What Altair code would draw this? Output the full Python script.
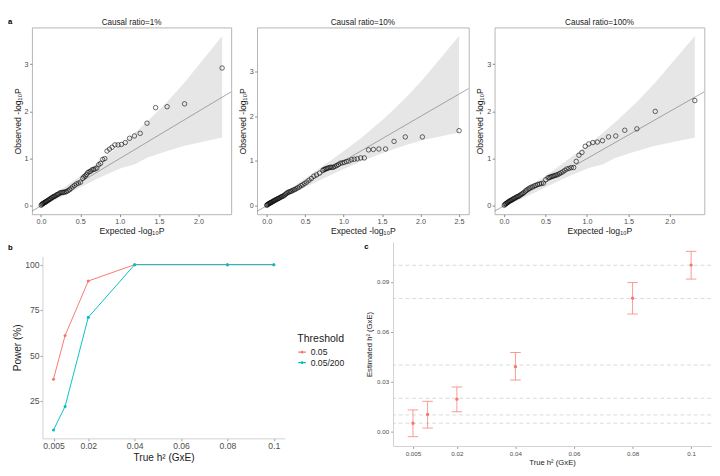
import altair as alt
import pandas as pd

FONT = "Liberation Sans"
RED = "#F8766D"
CYAN = "#00BFC4"
LBL = "#4d4d4d"
TXT = "#1a1a1a"

# ---------------- panel a : QQ plots ----------------
expected_n100 = [2.301, 1.824, 1.602, 1.456, 1.347, 1.260, 1.187, 1.125, 1.071, 1.022,
                 0.979, 0.939, 0.903, 0.870, 0.839, 0.810, 0.783, 0.757, 0.733, 0.710,
                 0.688, 0.668, 0.648, 0.629, 0.611, 0.593, 0.577, 0.561, 0.545, 0.530,
                 0.502, 0.475, 0.450, 0.426, 0.403, 0.382, 0.362, 0.342, 0.323, 0.305,
                 0.288, 0.272, 0.256, 0.240, 0.225, 0.211, 0.197, 0.184, 0.171, 0.158,
                 0.146, 0.134, 0.122, 0.111, 0.100, 0.089, 0.078, 0.068, 0.058, 0.048,
                 0.039, 0.029, 0.020, 0.011, 0.002]
observed_1pct = [2.92, 2.16, 2.10, 2.08, 1.75, 1.535, 1.48, 1.43, 1.34, 1.30,
                 1.29, 1.29, 1.24, 1.20, 1.16, 1.00, 0.98, 0.90, 0.87, 0.80,
                 0.78, 0.77, 0.76, 0.73, 0.72, 0.70, 0.66, 0.63, 0.61, 0.58,
                 0.50, 0.48, 0.46, 0.43, 0.40, 0.37, 0.34, 0.32, 0.30, 0.29,
                 0.285, 0.28, 0.28, 0.27, 0.25, 0.24, 0.23, 0.21, 0.20, 0.19,
                 0.18, 0.165, 0.15, 0.14, 0.125, 0.115, 0.10, 0.09, 0.08, 0.07,
                 0.06, 0.05, 0.04, 0.03, 0.01]
observed_100pct = [2.23, 2.00, 1.63, 1.60, 1.48, 1.46, 1.38, 1.35, 1.34, 1.31,
                   1.26, 1.13, 1.07, 0.94, 0.81, 0.81, 0.79, 0.78, 0.75, 0.72,
                   0.70, 0.68, 0.66, 0.65, 0.64, 0.63, 0.62, 0.61, 0.60, 0.59,
                   0.55, 0.48, 0.47, 0.46, 0.45, 0.43, 0.42, 0.40, 0.39, 0.37,
                   0.35, 0.33, 0.31, 0.28, 0.26, 0.245, 0.23, 0.21, 0.20, 0.19,
                   0.18, 0.165, 0.155, 0.145, 0.13, 0.12, 0.11, 0.10, 0.09, 0.075,
                   0.065, 0.05, 0.04, 0.03, 0.01]
expected_n158 = [2.500, 2.023, 1.801, 1.655, 1.545, 1.458, 1.386, 1.324, 1.269, 1.221,
                 1.177, 1.138, 1.102, 1.068, 1.037, 1.008, 0.981, 0.956, 0.931, 0.909,
                 0.887, 0.866, 0.846, 0.828, 0.809, 0.792, 0.775, 0.759, 0.744, 0.729,
                 0.687, 0.648, 0.613, 0.581, 0.550, 0.522, 0.495, 0.470, 0.447, 0.424,
                 0.403, 0.382, 0.363, 0.344, 0.326, 0.309, 0.293, 0.277, 0.262, 0.247,
                 0.233, 0.219, 0.205, 0.192, 0.180, 0.167, 0.155, 0.144, 0.132, 0.121,
                 0.111, 0.100, 0.090, 0.080, 0.070, 0.060, 0.051, 0.042, 0.033, 0.024,
                 0.015, 0.007, 0.001]
observed_10pct = [1.68, 1.54, 1.54, 1.44, 1.27, 1.27, 1.26, 1.25, 1.07, 1.07,
                  1.05, 1.04, 1.03, 1.00, 0.99, 0.97, 0.96, 0.95, 0.92, 0.90,
                  0.88, 0.86, 0.86, 0.86, 0.85, 0.84, 0.83, 0.82, 0.81, 0.79,
                  0.73, 0.69, 0.66, 0.61, 0.57, 0.53, 0.50, 0.47, 0.45, 0.42,
                  0.40, 0.38, 0.36, 0.35, 0.33, 0.32, 0.31, 0.30, 0.28, 0.26,
                  0.24, 0.22, 0.21, 0.20, 0.19, 0.175, 0.165, 0.155, 0.145, 0.135,
                  0.125, 0.115, 0.105, 0.095, 0.085, 0.075, 0.065, 0.06, 0.05, 0.04,
                  0.03, 0.02, 0.01]

band_x_n100 = [0.002, 0.048, 0.158, 0.264, 0.403, 0.530, 0.710, 0.839, 1.022, 1.187, 1.347, 1.602, 1.824, 2.301]
band_hi_n100 = [0.016, 0.081, 0.219, 0.349, 0.521, 0.67, 0.90, 1.071, 1.301, 1.537, 1.779, 2.202, 2.612, 3.597]
band_lo_n100 = [0.0001, 0.021, 0.1065, 0.193, 0.309, 0.42, 0.565, 0.666, 0.801, 0.876, 1.016, 1.163, 1.273, 1.449]
band_x_n158 = [0.001, 0.024, 0.121, 0.298, 0.602, 0.909, 1.221, 1.545, 1.801, 2.023, 2.500]
band_hi_n158 = [0.0101, 0.042, 0.162, 0.371, 0.734, 1.108, 1.506, 1.982, 2.403, 2.812, 3.796]
band_lo_n158 = [0.0001, 0.009, 0.0856, 0.236, 0.496, 0.752, 0.988, 1.205, 1.354, 1.465, 1.637]

# ---------------- panel b : power ----------------
true_h2 = [0.005, 0.01, 0.02, 0.04, 0.08, 0.1]
power_005 = [37, 61, 91, 100, 100, 100]
power_bonf = [9, 22, 71, 100, 100, 100]
thresholds = ["0.05", "0.05/200"]
h2_ticks = [0.005, 0.02, 0.04, 0.06, 0.08, 0.1]

# ---------------- panel c : estimates ----------------
est_h2 = [0.0050, 0.0103, 0.0195, 0.0390, 0.0802, 0.1001]
est_lo = [-0.0031, 0.0021, 0.0119, 0.0310, 0.0707, 0.0917]
est_hi = [0.0130, 0.0182, 0.0268, 0.0475, 0.0896, 0.1084]


def label_cell(label, h, yo):
    """A 1-px wide invisible cell that only carries a panel letter."""
    return alt.Chart(pd.DataFrame({"t": [label]})).mark_text(
        fontSize=8, fontWeight="bold", align="left", baseline="top", color="black"
    ).encode(x=alt.value(0), y=alt.value(yo), text="t:N").properties(width=1, height=h)


def qq_panel(title, exp, obs, bx, bhi, blo, xdom, ydom, xticks, width):
    pts = pd.DataFrame({"e": exp, "o": obs})
    band = pd.DataFrame({"e": bx, "o": bhi, "lo": blo})
    diag = pd.DataFrame({"e": [xdom[0], xdom[1]], "o": [xdom[0], xdom[1]]})
    xax = alt.Axis(values=xticks, format=".1f", title="Expected -log₁₀P", grid=False,
                   domain=False, tickColor="#888", tickSize=2.5, labelFontSize=7.5,
                   labelColor=LBL, titleFontSize=9, titleFontWeight="normal", titleColor=TXT,
                   labelPadding=1.5, titlePadding=2, labelFlush=False)
    yax = alt.Axis(values=[0, 1, 2, 3], format="d", title="Observed -log₁₀P", grid=False,
                   domain=False, tickColor="#888", tickSize=2.5, labelFontSize=7.5,
                   labelColor=LBL, titleFontSize=9, titleFontWeight="normal", titleColor=TXT,
                   labelPadding=1.5, titlePadding=2)
    X = alt.X("e:Q", scale=alt.Scale(domain=xdom, nice=False, zero=False), axis=xax)
    Y = alt.Y("o:Q", scale=alt.Scale(domain=ydom, nice=False, zero=False), axis=yax)
    area = alt.Chart(band).mark_area(color="#e6e6e6").encode(x=X, y=Y, y2="lo:Q")
    line = alt.Chart(diag).mark_line(color="#808080", strokeWidth=0.7, clip=True).encode(x=X, y=Y)
    dots = alt.Chart(pts).mark_point(shape="circle", filled=False, color="black",
                                     size=22, strokeWidth=0.6, opacity=1).encode(x=X, y=Y)
    return alt.layer(area, line, dots).properties(
        width=width, height=195,
        title=alt.TitleParams(title, fontSize=8.5, fontWeight="normal", offset=1, color=TXT),
        view=alt.ViewBackground(stroke="#b3b3b3", strokeWidth=1),
    )


a1 = qq_panel("Causal ratio=1%", expected_n100, observed_1pct, band_x_n100, band_hi_n100,
              band_lo_n100, [-0.115, 2.416], [-0.18, 3.78], [0, 0.5, 1, 1.5, 2], 208)
a2 = qq_panel("Causal ratio=10%", expected_n158, observed_10pct, band_x_n158, band_hi_n158,
              band_lo_n158, [-0.125, 2.625], [-0.19, 3.99], [0, 0.5, 1, 1.5, 2, 2.5], 221)
a3 = qq_panel("Causal ratio=100%", expected_n100, observed_100pct, band_x_n100, band_hi_n100,
              band_lo_n100, [-0.115, 2.416], [-0.18, 3.78], [0, 0.5, 1, 1.5, 2], 219)

top = alt.hconcat(label_cell("a", 1, -10), alt.hconcat(a1, a2, a3, spacing=6), spacing=0)

# ---------------- b ----------------
bdf = pd.DataFrame({
    "h": true_h2 + true_h2,
    "p": power_005 + power_bonf,
    "t": [thresholds[0]] * len(true_h2) + [thresholds[1]] * len(true_h2),
})
bX = alt.X("h:Q", scale=alt.Scale(domain=[0.00025, 0.10475], nice=False, zero=False),
           axis=alt.Axis(values=h2_ticks, format="~g", title="True h² (GxE)", grid=False,
                         domainColor="#d0d0d0", tickColor="#999", tickSize=2.5, labelFontSize=9,
                         labelColor=LBL, titleFontSize=10.5, titleFontWeight="normal",
                         titleColor=TXT, labelPadding=1.5, titlePadding=2, labelFlush=False))
bY = alt.Y("p:Q", scale=alt.Scale(domain=[4.45, 104.55], nice=False, zero=False),
           axis=alt.Axis(values=[25, 50, 75, 100], title="Power (%)", grid=False,
                         domainColor="#d0d0d0", tickColor="#999", tickSize=2.5, labelFontSize=9,
                         labelColor=LBL, titleFontSize=10.5, titleFontWeight="normal",
                         titleColor=TXT, labelPadding=1, titlePadding=2))
bscale = alt.Scale(domain=thresholds, range=[RED, CYAN])
blines = alt.Chart(bdf).mark_line(strokeWidth=1).encode(
    x=bX, y=bY,
    color=alt.Color("t:N", scale=bscale,
                    legend=alt.Legend(title="Threshold", orient="none", legendX=266, legendY=80,
                                      titleFontSize=11, titleFontWeight="normal", titleColor=TXT,
                                      labelFontSize=9, labelColor=TXT, symbolSize=64,
                                      symbolType="M-1,0L1,0M0.2,0A0.2,0.2,0,1,1,-0.2,0A0.2,0.2,0,1,1,0.2,0",
                                      symbolStrokeWidth=1.3, rowPadding=1, titlePadding=4,
                                      padding=0)),
)
bpts = alt.Chart(bdf).mark_point(filled=True, size=10, opacity=1).encode(
    x=bX, y=bY, color=alt.Color("t:N", scale=bscale, legend=None))
b = alt.layer(blines, bpts).properties(width=253, height=190)

bgap = alt.Chart(pd.DataFrame({"t": [" "]})).mark_text().encode(
    x=alt.value(0), y=alt.value(0), text="t:N").properties(width=1, height=10)
bcol = alt.vconcat(bgap, b, spacing=5).resolve_scale(color="independent").resolve_legend(color="independent")

# ---------------- c ----------------
cdf = pd.DataFrame({"h": true_h2, "est": est_h2, "lo": est_lo, "hi": est_hi})
hdf = pd.DataFrame({"est": true_h2})


def c_y(field):
    return alt.Y(field, scale=alt.Scale(domain=[-0.0087, 0.114], nice=False, zero=False),
                 axis=alt.Axis(values=[0, 0.03, 0.06, 0.09], format=".2f", title="Estimated h² (GxE)",
                               grid=False, domainColor="#d0d0d0", tickColor="#999", tickSize=2.5,
                               labelFontSize=6.5, labelColor=LBL, titleFontSize=8,
                               titleFontWeight="normal", titleColor=TXT, labelPadding=2, titlePadding=3))


cX = alt.X("h:Q", scale=alt.Scale(domain=[-0.0018, 0.1068], nice=False, zero=False),
           axis=alt.Axis(values=h2_ticks, format="~g", title="True h² (GxE)", grid=False,
                         domainColor="#d0d0d0", tickColor="#999", tickSize=2.5, labelFontSize=6.5,
                         labelColor=LBL, titleFontSize=8, titleFontWeight="normal",
                         titleColor=TXT, labelPadding=2, titlePadding=2, labelFlush=False))

dashes = alt.Chart(hdf).mark_rule(color="#cfcfcf", strokeDash=[4, 3], strokeWidth=0.8).encode(y=c_y("est:Q"))
bars = alt.Chart(cdf).mark_rule(color=RED, opacity=0.75, strokeWidth=1).encode(x=cX, y=c_y("lo:Q"), y2="hi:Q")
cap_lo = alt.Chart(cdf).mark_tick(color=RED, opacity=0.75, orient="horizontal", size=11,
                                  thickness=1).encode(x=cX, y=c_y("lo:Q"))
cap_hi = alt.Chart(cdf).mark_tick(color=RED, opacity=0.75, orient="horizontal", size=11,
                                  thickness=1).encode(x=cX, y=c_y("hi:Q"))
cpts = alt.Chart(cdf).mark_point(color=RED, filled=True, shape="circle", size=12, opacity=1).encode(x=cX, y=c_y("est:Q"))
clabel = alt.Chart(pd.DataFrame({"t": ["c"]})).mark_text(
    fontSize=8, fontWeight="bold", align="left", baseline="top", color="black"
).encode(x=alt.value(-30), y=alt.value(1), text="t:N")

c = alt.layer(dashes, bars, cap_lo, cap_hi, cpts, clabel).properties(width=332, height=213)

bottom_inner = alt.hconcat(bcol, c, spacing=20).resolve_scale(
    color="independent").resolve_legend(color="independent")
bottom = alt.hconcat(label_cell("b", 1, 2), bottom_inner, spacing=0)

chart = alt.vconcat(top, bottom, spacing=0).properties(
    padding=0, background="white"
).configure(font=FONT).configure_view(strokeWidth=0).configure_axis(
    labelFont=FONT, titleFont=FONT
).configure_title(font=FONT).configure_legend(labelFont=FONT, titleFont=FONT)

chart.save("out.html", embed_options={"renderer": "svg", "actions": False})
